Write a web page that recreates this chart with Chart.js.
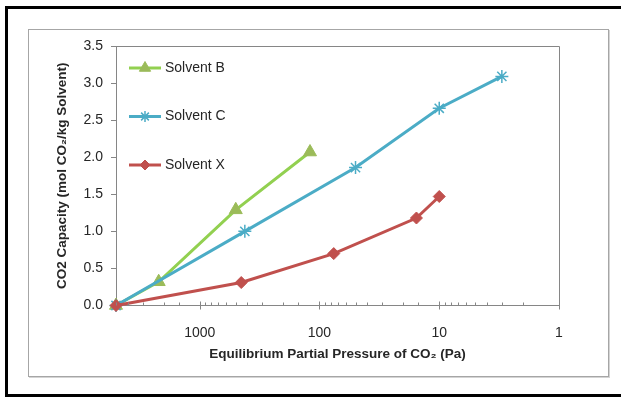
<!DOCTYPE html>
<html>
<head>
<meta charset="utf-8">
<script src="https://cdn.jsdelivr.net/npm/chart.js@4/dist/chart.umd.min.js"></script>
<style>
  body { margin: 0; overflow: hidden; background: #fff; }
  #outer { position: absolute; left: 5px; top: 6px; width: 700px; height: 385px; border: 3px solid #000; }
  #frame { position: absolute; left: 28px; top: 29px; width: 579px; height: 346px; border: 1px solid #a6a6a6; box-shadow: 1px 1px 0 #d4d4d4; }
  #wrap { position: absolute; left: 0; top: 0; width: 621px; height: 397px; }
</style>
</head>
<body>
<div id="outer"></div>
<div id="frame"></div>
<div id="wrap"><canvas id="co2Chart" width="621" height="397"></canvas></div>
<script>
// values (pressure in Pa, capacity in mol CO2/kg solvent)
const pressureB = [5000, 2200, 500, 120];
const capacityB = [0, 0.32, 1.29, 2.07];

const pressureC = [5000, 420, 50, 10, 3];
const capacityC = [0, 1.0, 1.86, 2.66, 3.09];

const pressureX = [5000, 450, 76, 15.5, 10];
const capacityX = [0, 0.31, 0.70, 1.18, 1.47];

const seriesNames = ['Solvent B', 'Solvent C', 'Solvent X'];
const yTicks = [0, 0.5, 1.0, 1.5, 2.0, 2.5, 3.0, 3.5];

function toPoints(xs, ys) {
  return xs.map((x, i) => ({ x: x, y: ys[i] }));
}

const fontName = "'Liberation Sans', Arial, sans-serif";

// tick marks on the log axis point into the plot, like Excel
const innerTicks = {
  id: 'innerTicks',
  afterDraw(chart) {
    const ctx = chart.ctx;
    const xs = chart.scales.x;
    const area = chart.chartArea;
    ctx.save();
    ctx.strokeStyle = '#868686';
    ctx.lineWidth = 1;
    // plot area border (top + right)
    ctx.beginPath();
    ctx.moveTo(area.left, area.top + 0.5);
    ctx.lineTo(area.right + 0.5, area.top + 0.5);
    ctx.lineTo(area.right + 0.5, area.bottom);
    ctx.stroke();
    xs.ticks.forEach(t => {
      const px = Math.round(xs.getPixelForValue(t.value)) + 0.5;
      const lg = Math.log10(t.value);
      const major = Math.abs(lg - Math.round(lg)) < 1e-9;
      ctx.beginPath();
      ctx.moveTo(px, area.bottom - (major ? 4 : 3));
      ctx.lineTo(px, area.bottom + (major ? 4 : 0));
      ctx.stroke();
    });
    ctx.restore();
  }
};

// legend drawn inside the plot area: line + marker + name
const insideLegend = {
  id: 'insideLegend',
  afterDraw(chart) {
    const ctx = chart.ctx;
    const area = chart.chartArea;
    ctx.save();
    chart.data.datasets.forEach((ds, i) => {
      const y = area.top + 22 + i * 48.5;
      const x0 = area.left + 13;
      const x1 = area.left + 45;
      ctx.strokeStyle = ds.borderColor;
      ctx.lineWidth = 3;
      ctx.beginPath();
      ctx.moveTo(x0, y);
      ctx.lineTo(x1, y);
      ctx.stroke();
      ctx.fillStyle = ds.pointBackgroundColor;
      ctx.strokeStyle = ds.pointBorderColor;
      ctx.lineWidth = ds.pointBorderWidth;
      Chart.helpers.drawPoint(ctx, { pointStyle: ds.pointStyle, rotation: 0, radius: ds.pointRadius - 1, borderWidth: ds.pointBorderWidth }, (x0 + x1) / 2, y);
      ctx.fillStyle = '#262626';
      ctx.font = '14px ' + fontName;
      ctx.textBaseline = 'middle';
      ctx.fillText(ds.label, x1 + 4, y);
    });
    ctx.restore();
  }
};

const ctx = document.getElementById('co2Chart');

new Chart(ctx, {
  type: 'line',
  data: {
    datasets: [
      {
        label: seriesNames[0],
        data: toPoints(pressureB, capacityB),
        borderColor: '#92D050',
        borderWidth: 3,
        pointStyle: 'triangle',
        pointRadius: 7.5,
        pointBackgroundColor: '#9BBB59',
        pointBorderColor: '#9BBB59',
        pointBorderWidth: 1,
        clip: false,
        order: 2
      },
      {
        label: seriesNames[1],
        data: toPoints(pressureC, capacityC),
        borderColor: '#4BACC6',
        borderWidth: 3,
        pointStyle: 'star',
        pointRadius: 6.5,
        pointBackgroundColor: '#4BACC6',
        pointBorderColor: '#4BACC6',
        pointBorderWidth: 1.5,
        clip: false,
        order: 1
      },
      {
        label: seriesNames[2],
        data: toPoints(pressureX, capacityX),
        borderColor: '#C0504D',
        borderWidth: 3,
        pointStyle: 'rectRot',
        pointRadius: 6,
        pointBackgroundColor: '#C0504D',
        pointBorderColor: '#C0504D',
        pointBorderWidth: 1,
        clip: false,
        order: 0
      }
    ]
  },
  options: {
    responsive: false,
    animation: false,
    layout: {
      padding: { left: 40, top: 46, right: 62, bottom: 20 }
    },
    plugins: {
      legend: { display: false },
      tooltip: { enabled: false }
    },
    scales: {
      x: {
        type: 'logarithmic',
        reverse: true,
        min: 1,
        max: 5000,
        afterFit: (scale) => { scale.height = 71.5; },
        border: { display: true, color: '#868686', width: 1 },
        grid: { display: false, drawTicks: false },
        ticks: {
          autoSkip: false,
          maxRotation: 0,
          padding: 19,
          color: '#262626',
          font: { family: fontName, size: 14 },
          callback: (value) => {
            const lg = Math.log10(value);
            return Math.abs(lg - Math.round(lg)) < 1e-9 ? String(value) : '';
          }
        },
        title: {
          display: true,
          text: 'Equilibrium Partial Pressure of CO₂ (Pa)',
          color: '#262626',
          font: { family: fontName, size: 13.5, weight: 'bold' },
          padding: { top: 4, bottom: 15 }
        }
      },
      y: {
        min: 0,
        max: 3.5,
        afterFit: (scale) => { scale.width = 76; },
        afterBuildTicks: (scale) => { scale.ticks = yTicks.map(v => ({ value: v })); },
        border: { display: true, color: '#868686', width: 1 },
        grid: { drawOnChartArea: false, drawTicks: true, tickLength: 5, color: '#868686' },
        ticks: {
          padding: 8,
          color: '#262626',
          font: { family: fontName, size: 14 },
          callback: (value) => Number(value).toFixed(1)
        },
        title: {
          display: true,
          text: 'CO2 Capacity (mol CO₂/kg Solvent)',
          color: '#262626',
          font: { family: fontName, size: 13.5, weight: 'bold' },
          padding: { top: 14, bottom: 4 }
        }
      }
    }
  },
  plugins: [innerTicks, insideLegend]
});
</script>
</body>
</html>
